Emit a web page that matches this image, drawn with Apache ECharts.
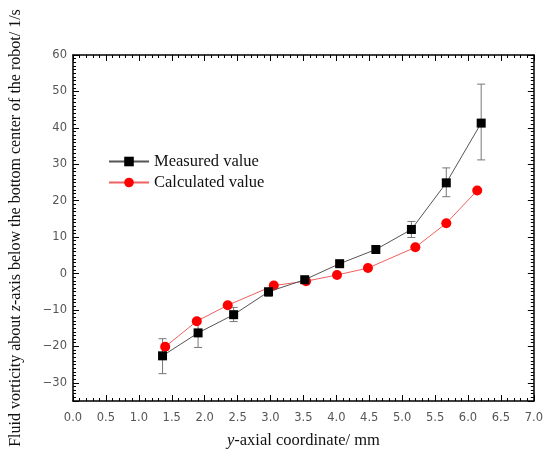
<!DOCTYPE html>
<html>
<head>
<meta charset="utf-8">
<script src="https://cdn.jsdelivr.net/npm/echarts@6/dist/echarts.min.js"></script>
<style>
  html, body { margin: 0; padding: 0; background: #fff; }
  #chart { width: 546px; height: 465px; }
</style>
</head>
<body>
<div id="chart"></div>
<script>
// measured vorticity (black squares) with error bars
const measuredX = [1.36, 1.90, 2.44, 2.97, 3.52, 4.05, 4.60, 5.14, 5.67, 6.20];
const measuredY = [-22.6, -16.3, -11.3, -5.0, -1.7, 2.7, 6.6, 12.1, 24.9, 41.3];
const errLow = [-27.5, -20.3, -13.2, -6.3, -2.3, 2.1, 5.8, 9.9, 21.1, 31.2];
const errHigh = [-17.9, -12.3, -9.3, -4.2, -1.1, 3.3, 7.4, 14.3, 29.0, 52.0];
// calculated vorticity (red circles)
const calcX = [1.40, 1.88, 2.35, 3.05, 3.54, 4.01, 4.48, 5.20, 5.67, 6.14];
const calcY = [-20.1, -13.1, -8.7, -3.3, -2.1, -0.4, 1.5, 7.2, 13.8, 22.8];

const chart = echarts.init(document.getElementById("chart"));
const serif = "Liberation Serif";
const labelFont = "DejaVu Sans";
const frame = { show: true, onZero: false, lineStyle: { color: "#000", width: 1.5 } };

const measured = measuredX.map((x, i) => [x, measuredY[i]]);
const calculated = calcX.map((x, i) => [x, calcY[i]]);
const errors = measuredX.map((x, i) => [x, errLow[i], errHigh[i]]);

const xBase = {
  type: "value",
  min: 0,
  max: 7,
  interval: 0.5,
  axisLine: frame,
  axisTick: { inside: true, length: 6, lineStyle: { color: "#000" } },
  minorTick: { show: true, splitNumber: 5, length: 3, lineStyle: { color: "#000" } },
  splitLine: { show: false }
};
const yBase = {
  type: "value",
  min: -35,
  max: 60,
  splitNumber: 10,
  axisLine: frame,
  axisTick: { inside: true, length: 6, lineStyle: { color: "#000" } },
  minorTick: { show: true, splitNumber: 10, length: 3, lineStyle: { color: "#000" } },
  splitLine: { show: false }
};

const option = {
  animation: false,
  backgroundColor: "#fff",
  grid: { left: 71, right: 6, top: 55, bottom: 64 },
  legend: {
    orient: "vertical",
    left: 103,
    top: 148,
    itemWidth: 40,
    itemHeight: 12,
    itemGap: 4,
    textStyle: { fontFamily: serif, fontSize: 16.5, color: "#111" },
    data: ["Measured value", "Calculated value"]
  },
  xAxis: [
    Object.assign({}, xBase, {
      position: "bottom",
      name: "{i|y}-axial coordinate/ mm",
      nameLocation: "middle",
      nameGap: 31,
      nameTextStyle: {
        fontFamily: serif, fontSize: 16.5, color: "#111",
        rich: { i: { fontStyle: "italic", fontFamily: serif, fontSize: 16.5, color: "#111" } }
      },
      axisLabel: {
        margin: 11,
        fontFamily: labelFont, fontSize: 11.5, color: "#555",
        formatter: v => v.toFixed(1)
      }
    }),
    Object.assign({}, xBase, { position: "top", axisLabel: { show: false } })
  ],
  yAxis: [
    Object.assign({}, yBase, {
      position: "left",
      name: "Fluid vorticity about {i|z}-axis below the bottom center of the robot/ 1/s",
      nameLocation: "middle",
      nameGap: 49,
      nameTextStyle: {
        fontFamily: serif, fontSize: 16, color: "#111",
        rich: { i: { fontStyle: "italic", fontFamily: serif, fontSize: 16, color: "#111" } }
      },
      axisLabel: {
        margin: 6,
        fontFamily: labelFont, fontSize: 11.5, color: "#555",
        formatter: v => (v % 10 === 0 ? String(v).replace("-", "\u2212") : "")
      }
    }),
    Object.assign({}, yBase, { position: "right", axisLabel: { show: false } })
  ],
  series: [
    {
      name: "errors",
      type: "custom",
      xAxisIndex: 0,
      yAxisIndex: 0,
      z: 1,
      data: errors,
      renderItem: function (params, api) {
        const x = api.value(0);
        const lo = api.coord([x, api.value(1)]);
        const hi = api.coord([x, api.value(2)]);
        const w = 4;
        const style = { stroke: "#777", lineWidth: 1 };
        return {
          type: "group",
          children: [
            { type: "line", shape: { x1: lo[0], y1: lo[1], x2: hi[0], y2: hi[1] }, style: style },
            { type: "line", shape: { x1: lo[0] - w, y1: lo[1], x2: lo[0] + w, y2: lo[1] }, style: style },
            { type: "line", shape: { x1: hi[0] - w, y1: hi[1], x2: hi[0] + w, y2: hi[1] }, style: style }
          ]
        };
      }
    },
    {
      name: "Measured value",
      type: "line",
      z: 3,
      data: measured,
      symbol: "rect",
      symbolSize: 9,
      itemStyle: { color: "#000" },
      lineStyle: { color: "#555", width: 1 }
    },
    {
      name: "Calculated value",
      type: "line",
      z: 2,
      data: calculated,
      symbol: "circle",
      symbolSize: 10,
      itemStyle: { color: "#f00" },
      lineStyle: { color: "#f06060", width: 1 }
    }
  ]
};
chart.setOption(option);
</script>
</body>
</html>
